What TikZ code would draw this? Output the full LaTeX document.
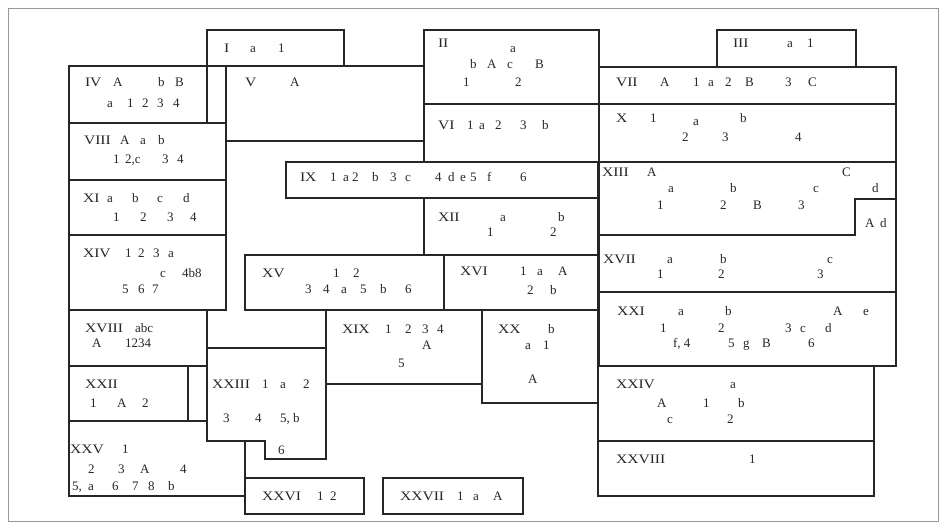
\documentclass[tikz,border=0pt]{standalone}
\usepackage{fontspec}
\setmainfont{Liberation Serif}
\newfontfamily\rnfont[FakeStretch=1.2]{Liberation Serif}
\newcommand\tkfont{\fontsize{13}{15}\selectfont}
\newcommand\R[1]{{\rnfont #1}}
\newcommand\row[3]{\foreach \px/\tx [count=\k] in {#3}{\node[tok] (#1-\k) at (\px,#2) {\tx};}}
\tikzset{
  tok/.style={anchor=base west, inner sep=0pt, outer sep=0pt, font=\tkfont, text=black!85},
  box/.style={draw=black!85, line width=1.1pt, line join=miter},
  frame/.style={draw=black!40, line width=0.7pt}
}
\begin{document}
\begin{tikzpicture}[x=1pt,y=-1pt]
\useasboundingbox (0,0) rectangle (947,529);
\draw[frame] (8,8) rectangle (938,521);
% top row
\draw[box] (207,30) rectangle (344,66);   % I
\draw[box] (424,30) rectangle (599,104);  % II
\draw[box] (717,30) rectangle (856,67);   % III
\draw[box] (69,66) rectangle (207,123);   % IV
\draw[box] (226,66) rectangle (424,141);  % V
\draw[box] (599,67) rectangle (896,104);  % VII
\draw[box] (424,104) rectangle (599,162); % VI
\draw[box] (599,104) rectangle (896,162); % X
\draw[box] (69,123) rectangle (226,180);  % VIII
\draw[box] (286,162) rectangle (598,198); % IX
\draw[box] (69,180) rectangle (226,235);  % XI
\draw[box] (424,198) rectangle (598,255); % XII
\draw[box] (599,162) -- (896,162) -- (896,199) -- (855,199) -- (855,235) -- (599,235) -- cycle; % XIII
\draw[box] (599,235) -- (855,235) -- (855,199) -- (896,199) -- (896,292) -- (599,292) -- cycle; % XVII
\draw[box] (599,292) rectangle (896,366); % XXI
\draw[box] (598,366) rectangle (874,441); % XXIV
\draw[box] (598,441) rectangle (874,496); % XXVIII
\draw[box] (69,235) rectangle (226,310);  % XIV
\draw[box] (245,255) rectangle (444,310); % XV
\draw[box] (444,255) rectangle (598,310); % XVI
\draw[box] (69,310) rectangle (207,366);  % XVIII
\draw[box] (326,310) rectangle (482,384); % XIX
\draw[box] (482,310) rectangle (598,403); % XX
\draw[box] (69,366) rectangle (207,421);  % XXII
\draw[box] (188,366) -- (188,421);
\draw[box] (207,348) -- (326,348) -- (326,459) -- (265,459) -- (265,441) -- (207,441) -- cycle; % XXIII
\draw[box] (69,421) -- (207,421) -- (207,441) -- (245,441) -- (245,496) -- (69,496) -- cycle; % XXV
\draw[box] (245,478) rectangle (364,514); % XXVI
\draw[box] (383,478) rectangle (523,514); % XXVII
% texts
\row{I}{53}{224/\R{I}, 250/a, 278/1}
\row{IIa}{48}{438/\R{II}}
\row{IIb}{53}{510/a}
\row{IIc}{69}{470/b, 487/A, 507/c, 535/B}
\row{IId}{87}{463/1, 515/2}
\row{III}{48}{733/\R{III}, 787/a, 807/1}
\row{IVa}{87}{85/\R{IV}, 113/A, 158/b, 175/B}
\row{IVb}{108}{107/a, 127/1, 142/2, 157/3, 173/4}
\row{V}{87}{245/\R{V}, 290/A}
\row{VII}{87}{616/\R{VII}, 660/A, 693/1, 708/a, 725/2, 745/B, 785/3, 808/C}
\row{VI}{130}{438/\R{VI}, 467/1, 479/a, 495/2, 520/3, 542/b}
\row{Xa}{123}{616/\R{X}, 650/1, 740/b}
\row{Xb}{126}{693/a}
\row{Xc}{142}{682/2, 722/3, 795/4}
\row{VIIIa}{145}{84/\R{VIII}, 120/A, 140/a, 158/b}
\row{VIIIb}{164}{113/1, 125/{2,c}, 162/3, 177/4}
\row{IX}{182}{300/\R{IX}, 330/1, 343/a, 352/2, 372/b, 390/3, 405/c, 435/4, 448/d, 460/e, 470/5, 487/f, 520/6}
\row{XIa}{203}{83/\R{XI}, 107/a, 132/b, 157/c, 183/d}
\row{XIb}{222}{113/1, 140/2, 167/3, 190/4}
\row{XIIa}{222}{438/\R{XII}, 500/a, 558/b}
\row{XIIb}{237}{487/1, 550/2}
\row{XIIIa}{177}{602/\R{XIII}, 647/A, 842/C}
\row{XIIIb}{193}{668/a, 730/b, 813/c, 872/d}
\row{XIIIc}{210}{657/1, 720/2, 753/B, 798/3}
\row{XIIId}{228}{865/A, 880/d}
\row{XIVa}{258}{83/\R{XIV}, 125/1, 138/2, 153/3, 168/a}
\row{XIVb}{277}{160/c, 182/4b8}
\row{XIVc}{293}{122/5, 138/6, 152/7}
\row{XVa}{277}{262/\R{XV}, 333/1, 353/2}
\row{XVb}{293}{305/3, 323/4, 341/a, 360/5, 380/b, 405/6}
\row{XVIa}{276}{460/\R{XVI}, 520/1, 537/a, 558/A}
\row{XVIb}{294}{527/2, 550/b}
\row{XVIIa}{263}{603/\R{XVII}, 667/a, 720/b, 827/c}
\row{XVIIb}{279}{657/1, 718/2, 817/3}
\row{XVIIIa}{332}{85/\R{XVIII}, 135/abc}
\row{XVIIIb}{347}{92/A, 125/1234}
\row{XIXa}{333}{342/\R{XIX}, 385/1, 405/2, 422/3, 437/4}
\row{XIXb}{349}{422/A}
\row{XIXc}{367}{398/5}
\row{XXa}{333}{498/\R{XX}, 548/b}
\row{XXb}{349}{525/a, 543/1}
\row{XXc}{383}{528/A}
\row{XXIa}{315}{617/\R{XXI}, 678/a, 725/b, 833/A, 863/e}
\row{XXIb}{332}{660/1, 718/2, 785/3, 800/c, 825/d}
\row{XXIc}{347}{673/{f, 4}, 728/5, 743/g, 762/B, 808/6}
\row{XXIIa}{388}{85/\R{XXII}}
\row{XXIIb}{407}{90/1, 117/A, 142/2}
\row{XXIIIa}{388}{212/\R{XXIII}, 262/1, 280/a, 303/2}
\row{XXIIIb}{422}{223/3, 255/4, 280/{5, b}}
\row{XXIIIc}{454}{278/6}
\row{XXIVa}{388}{616/\R{XXIV}, 730/a}
\row{XXIVb}{407}{657/A, 703/1, 738/b}
\row{XXIVc}{423}{667/c, 727/2}
\row{XXVa}{453}{70/\R{XXV}, 122/1}
\row{XXVb}{473}{88/2, 118/3, 140/A, 180/4}
\row{XXVc}{490}{72/{5,}, 88/a, 112/6, 132/7, 148/8, 168/b}
\row{XXVI}{500}{262/\R{XXVI}, 317/1, 330/2}
\row{XXVII}{500}{400/\R{XXVII}, 457/1, 473/a, 493/A}
\row{XXVIII}{463}{616/\R{XXVIII}, 749/1}
\end{tikzpicture}
\end{document}
